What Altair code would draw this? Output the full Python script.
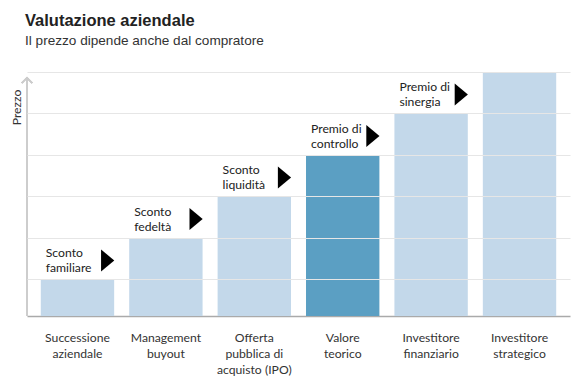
import altair as alt
import pandas as pd

categories = [
    "Successione\naziendale",
    "Management\nbuyout",
    "Offerta\npubblica di\nacquisto (IPO)",
    "Valore\nteorico",
    "Investitore\nfinanziario",
    "Investitore\nstrategico",
]
prices = [1, 2, 3, 4, 5, 6]
highlight = ["no", "no", "no", "yes", "no", "no"]
notes = ["Sconto\nfamiliare", "Sconto\nfedeltà", "Sconto\nliquidità", "Premio di\ncontrollo", "Premio di\nsinergia", ""]
grid_ticks = [1, 2, 3, 4, 5, 6]

df = pd.DataFrame({"cat": categories, "price": prices, "hl": highlight, "note": notes})
notes_df = df[df["note"] != ""]

NARROW = "Liberation Sans Narrow, Lato, sans-serif"
YMIN = 0.12
YMAX = 6

xscale = alt.Scale(paddingInner=0.17, paddingOuter=0.156)
yscale = alt.Scale(domain=[YMIN, YMAX], nice=False, zero=False)

x_enc = alt.X(
    "cat:N", sort=categories, scale=xscale, title=None,
    axis=alt.Axis(
        labelExpr="split(datum.label, '\\n')", labelAngle=0, ticks=False,
        labelFont=NARROW, labelFontSize=12.2, labelColor="#333333",
        labelPadding=15, labelLineHeight=16, domainColor="#aaaaaa", domainWidth=1.5,
        labelBaseline="top",
    ),
)

bars = alt.Chart(df).mark_bar().encode(
    x=x_enc,
    y=alt.Y(
        "price:Q", scale=yscale, title="Prezzo",
        axis=alt.Axis(
            values=grid_ticks, labels=False, ticks=False, domain=False,
            gridColor="#e6e6e6", gridWidth=1.2, zindex=1,
            titleFont=NARROW, titleFontSize=12.2, titleFontWeight="normal", titleColor="#333333",
            titleAngle=270, titleX=-11, titleY=35, titleAlign="center", titleBaseline="middle",
        ),
    ),
    y2=alt.datum(YMIN),
    color=alt.Color("hl:N", scale=alt.Scale(domain=["no", "yes"], range=["#c3d8ea", "#5b9fc3"]), legend=None),
)

yline = alt.Chart(df).mark_rule(color="#cccccc", strokeWidth=1.5).encode(
    x=alt.value(0), y=alt.datum(YMIN), y2=alt.datum(5.86)
)
arrow = alt.Chart(df).mark_point(
    shape="M-1,1 L0,0 L1,1", filled=False, color="#cccccc", strokeWidth=1.5, size=110, opacity=1
).encode(x=alt.value(0), y=alt.datum(5.86))

labels = alt.Chart(notes_df).mark_text(
    align="left", baseline="bottom", dx=5, dy=-19, lineBreak="\n", lineHeight=15,
    font=NARROW, fontSize=12.2, color="#222222",
).encode(
    x=alt.X("cat:N", sort=categories, bandPosition=0),
    y=alt.Y("price:Q"),
    text="note:N",
)

tri = alt.Chart(notes_df).mark_point(
    shape="M-0.6,-1 L0.6,0 L-0.6,1 Z", filled=True, color="#000000", size=484, opacity=1, xOffset=-6.5, yOffset=-19,
).encode(
    x=alt.X("cat:N", sort=categories, bandPosition=1),
    y=alt.Y("price:Q"),
)

chart = alt.layer(bars, yline, arrow, labels, tri).properties(
    width=543, height=244,
    autosize=alt.AutoSizeParams(type="none"),
    padding={"left": 19, "top": 64, "right": 2, "bottom": 72},
    title=alt.TitleParams(
        text="Valutazione aziendale",
        subtitle="Il prezzo dipende anche dal compratore",
        anchor="start", frame="group", dx=-2, offset=24,
        font="Liberation Sans", fontSize=16.5, fontWeight="bold", color="#222222",
        subtitleFont="Liberation Sans", subtitleFontSize=13.6, subtitleColor="#333333", subtitlePadding=5,
    ),
).configure_view(stroke=None)

chart.save("out.html", embed_options={"renderer": "svg", "actions": False})
